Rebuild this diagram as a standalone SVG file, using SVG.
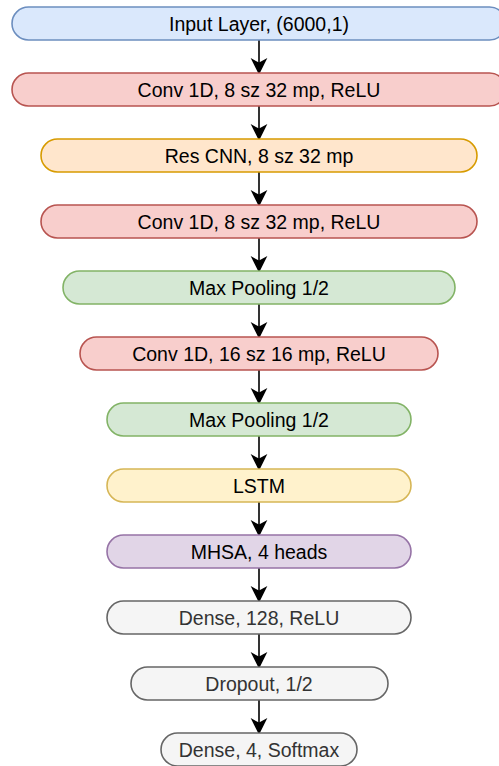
<svg xmlns="http://www.w3.org/2000/svg" width="499" height="766" viewBox="0 0 499 766">
  <style>
    .box { stroke-width: 1.6; }
    .lbl { font-family: "Liberation Sans", Arial, sans-serif; font-size: 19.5px; text-anchor: middle; fill: #000000; }
    .blue { fill: #dae8fc; stroke: #6c8ebf; }
    .red { fill: #f8cecc; stroke: #b85450; }
    .orange { fill: #ffe6cc; stroke: #d79b00; }
    .green { fill: #d5e8d4; stroke: #82b366; }
    .yellow { fill: #fff2cc; stroke: #d6b656; }
    .purple { fill: #e1d5e7; stroke: #9673a6; }
    .gray { fill: #f5f5f5; stroke: #666666; }
    .gray-txt { fill: #333333; }
    .edge { stroke: #000000; stroke-width: 1.6; fill: none; }
    .head { fill: #000000; stroke: #000000; stroke-width: 1.6; stroke-linejoin: miter; }
  </style>
  <rect width="499" height="766" fill="#ffffff"/>

  <g id="connectors">
    <path class="edge" d="M259,40 V66"/>
    <path class="head" d="M259,73 L252.5,60 L259,63.5 L265.5,60 Z"/>
    <path class="edge" d="M259,106 V132"/>
    <path class="head" d="M259,139 L252.5,126 L259,129.5 L265.5,126 Z"/>
    <path class="edge" d="M259,172 V198"/>
    <path class="head" d="M259,205 L252.5,192 L259,195.5 L265.5,192 Z"/>
    <path class="edge" d="M259,238 V264"/>
    <path class="head" d="M259,271 L252.5,258 L259,261.5 L265.5,258 Z"/>
    <path class="edge" d="M259,304 V330"/>
    <path class="head" d="M259,337 L252.5,324 L259,327.5 L265.5,324 Z"/>
    <path class="edge" d="M259,370 V396"/>
    <path class="head" d="M259,403 L252.5,390 L259,393.5 L265.5,390 Z"/>
    <path class="edge" d="M259,436 V462"/>
    <path class="head" d="M259,469 L252.5,456 L259,459.5 L265.5,456 Z"/>
    <path class="edge" d="M259,502 V528"/>
    <path class="head" d="M259,535 L252.5,522 L259,525.5 L265.5,522 Z"/>
    <path class="edge" d="M259,568 V594"/>
    <path class="head" d="M259,601 L252.5,588 L259,591.5 L265.5,588 Z"/>
    <path class="edge" d="M259,634 V660"/>
    <path class="head" d="M259,667 L252.5,654 L259,657.5 L265.5,654 Z"/>
    <path class="edge" d="M259,700 V726"/>
    <path class="head" d="M259,733 L252.5,720 L259,723.5 L265.5,720 Z"/>
  </g>

  <g id="input">
    <rect class="box blue" x="12" y="7" width="494" height="33" rx="16.5"/>
    <text class="lbl" x="259" y="30.5">Input Layer, (6000,1)</text>
  </g>
  <g id="conv1">
    <rect class="box red" x="12" y="73" width="494" height="33" rx="16.5"/>
    <text class="lbl" x="259" y="96.5">Conv 1D, 8 sz 32 mp, ReLU</text>
  </g>
  <g id="rescnn">
    <rect class="box orange" x="41" y="139" width="436" height="33" rx="16.5"/>
    <text class="lbl" x="259" y="162.5">Res CNN, 8 sz 32 mp</text>
  </g>
  <g id="conv2">
    <rect class="box red" x="41" y="205" width="436" height="33" rx="16.5"/>
    <text class="lbl" x="259" y="228.5">Conv 1D, 8 sz 32 mp, ReLU</text>
  </g>
  <g id="pool1">
    <rect class="box green" x="63" y="271" width="392" height="33" rx="16.5"/>
    <text class="lbl" x="259" y="294.5">Max Pooling 1/2</text>
  </g>
  <g id="conv3">
    <rect class="box red" x="80" y="337" width="358" height="33" rx="16.5"/>
    <text class="lbl" x="259" y="360.5">Conv 1D, 16 sz 16 mp, ReLU</text>
  </g>
  <g id="pool2">
    <rect class="box green" x="107" y="403" width="304" height="33" rx="16.5"/>
    <text class="lbl" x="259" y="426.5">Max Pooling 1/2</text>
  </g>
  <g id="lstm">
    <rect class="box yellow" x="107" y="469" width="304" height="33" rx="16.5"/>
    <text class="lbl" x="259" y="492.5">LSTM</text>
  </g>
  <g id="mhsa">
    <rect class="box purple" x="107" y="535" width="304" height="33" rx="16.5"/>
    <text class="lbl" x="259" y="558.5">MHSA, 4 heads</text>
  </g>
  <g id="dense128">
    <rect class="box gray" x="107" y="601" width="304" height="33" rx="16.5"/>
    <text class="lbl gray-txt" x="259" y="624.5">Dense, 128, ReLU</text>
  </g>
  <g id="dropout">
    <rect class="box gray" x="131" y="667" width="257" height="33" rx="16.5"/>
    <text class="lbl gray-txt" x="259" y="690.5">Dropout, 1/2</text>
  </g>
  <g id="dense4">
    <rect class="box gray" x="161" y="733" width="196" height="33" rx="16.5"/>
    <text class="lbl gray-txt" x="259" y="756.5">Dense, 4, Softmax</text>
  </g>
</svg>
